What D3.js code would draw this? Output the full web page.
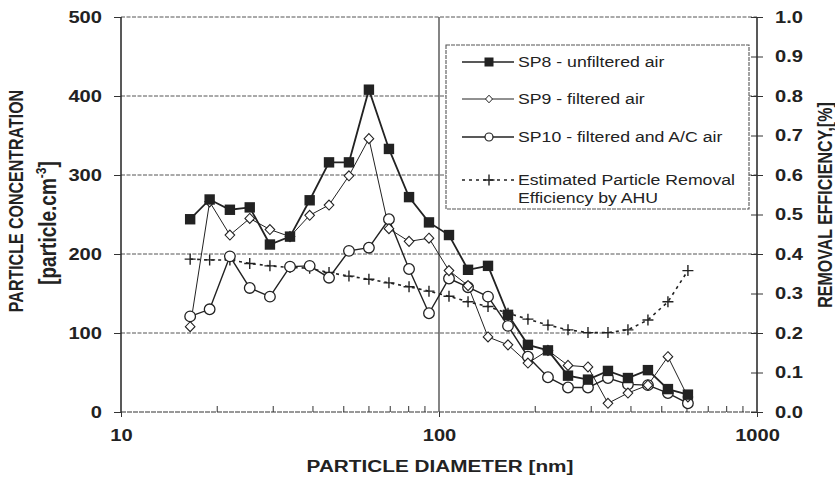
<!DOCTYPE html>
<html><head><meta charset="utf-8">
<script src="https://cdn.jsdelivr.net/npm/d3@7"></script>
<style>
html,body{margin:0;padding:0;background:#fff;}
text{font-family:"Liberation Sans",Arial,sans-serif;fill:#222;}
</style></head>
<body><svg id="c" width="835" height="480"></svg>
<script>
const diameters = [16.5, 19.0, 22.0, 25.4, 29.4, 34.0, 39.2, 45.1, 52.1, 60.2, 69.6, 80.5, 93.0, 107.5, 123.4, 142.6, 164.8, 190.4, 220.1, 254.5, 294.1, 339.9, 392.8, 454.0, 524.7, 606.4];
const sp8  = [244, 269, 256, 259, 212, 222, 268, 316, 316, 408, 333, 272, 240, 224, 180, 185, 123, 85, 78, 46, 41, 52, 43, 53, 29, 22];
const sp9  = [108, 266, 224, 245, 231, 222, 249, 262, 299, 346, 232, 216, 220, 179, 160, 95, 85, 62, 78, 59, 57, 11, 24, 34, 70, 19];
const sp10 = [121, 130, 197, 157, 146, 184, 185, 170, 204, 208, 244, 181, 125, 169, 158, 146, 109, 70, 44, 31, 31, 43, 35, 34, 24, 11];
const efficiency = [0.387, 0.385, 0.385, 0.376, 0.370, 0.366, 0.364, 0.353, 0.344, 0.336, 0.327, 0.317, 0.306, 0.293, 0.279, 0.267, 0.250, 0.235, 0.220, 0.208, 0.201, 0.201, 0.208, 0.233, 0.279, 0.358];
const leftTicks = [0, 100, 200, 300, 400, 500];
const rightTicks = [0, 0.1, 0.2, 0.3, 0.4, 0.5, 0.6, 0.7, 0.8, 0.9, 1.0];
const xMajor = [10, 100, 1000];
const xMinor = [20, 30, 40, 50, 60, 70, 80, 90, 200, 300, 400, 500, 600, 700, 800, 900];
const legendLabels = ["SP8 - unfiltered air", "SP9 - filtered air", "SP10 - filtered and A/C air", "Estimated Particle Removal", "Efficiency by AHU"];

const svg = d3.select("#c");
const L = 121, R = 757, T = 17, B = 412;
const SX = 1.22; // horizontal glyph stretch seen in the reference
const x = d3.scaleLog().domain([10, 1000]).range([L, R]);
const y = d3.scaleLinear().domain([0, 500]).range([B, T]);
const y2 = d3.scaleLinear().domain([0, 1]).range([B, T]);
const ink = "#222";
const FONT = "'Liberation Sans',Arial,sans-serif";

function stretchLabels(sel, size) {
  sel.each(function () {
    const t = d3.select(this);
    const tx = +t.attr("x") || 0, ty = +t.attr("y") || 0;
    t.attr("transform", `translate(${tx},${ty}) scale(${SX},1)`).attr("x", 0).attr("y", 0)
      .attr("font-size", size).attr("font-weight", "bold").attr("fill", ink).attr("font-family", FONT);
  });
}

// gridlines
svg.append("g").selectAll("line").data(leftTicks.filter(d => d > 0)).join("line")
  .attr("x1", L).attr("x2", R).attr("y1", d => y(d)).attr("y2", d => y(d))
  .attr("stroke", "#555").attr("stroke-width", 1).attr("stroke-dasharray", "4,1.5");
svg.append("line").attr("x1", x(100)).attr("x2", x(100)).attr("y1", T).attr("y2", B)
  .attr("stroke", "#333").attr("stroke-width", 1.2);

// bottom axis
svg.append("line").attr("x1", L).attr("x2", R).attr("y1", B).attr("y2", B)
  .attr("stroke", "#333").attr("stroke-width", 1.2).attr("stroke-dasharray", "5,1");
const gxMinor = svg.append("g").attr("transform", `translate(0,${B})`)
  .call(d3.axisBottom(x).tickValues(xMinor).tickSize(-6).tickFormat(""));
gxMinor.select(".domain").remove();
gxMinor.selectAll("line").attr("stroke", "#333");
const gx = svg.append("g").attr("transform", `translate(0,${B})`)
  .call(d3.axisBottom(x).tickValues(xMajor).tickSize(5).tickPadding(12).tickFormat(d3.format("d")));
gx.select(".domain").remove();
gx.selectAll("line").attr("stroke", "#333");
stretchLabels(gx.selectAll("text"), 16.5);

// left axis
const gy = svg.append("g").attr("transform", `translate(${L},0)`)
  .call(d3.axisLeft(y).tickValues(leftTicks).tickSize(7).tickPadding(12));
gy.select(".domain").attr("stroke", ink).attr("stroke-width", 1.5).attr("d", `M0,${T}V${B}`);
gy.selectAll("line").attr("stroke", "#333");
stretchLabels(gy.selectAll("text"), 16.5);

// right axis
const gy2 = svg.append("g").attr("transform", `translate(${R},0)`)
  .call(d3.axisRight(y2).tickValues(rightTicks).tickSize(6).tickPadding(12).tickFormat(d3.format(".1f")));
gy2.select(".domain").attr("stroke", ink).attr("stroke-width", 1.5).attr("d", `M0,${T}V${B}`);
gy2.selectAll(".tick line").attr("stroke", "#333").attr("x1", -6).attr("x2", 6);
stretchLabels(gy2.selectAll("text"), 16.5);

// axis titles
svg.append("text").attr("transform", `translate(440,472) scale(${SX},1)`).attr("text-anchor", "middle")
  .attr("font-size", 17).attr("font-weight", "bold").text("PARTICLE DIAMETER [nm]");
svg.append("text").attr("transform", `translate(23,201) scale(${SX},1) rotate(-90)`).attr("text-anchor", "middle")
  .attr("font-size", 16).attr("font-weight", "bold").text("PARTICLE CONCENTRATION");
const lt = svg.append("text").attr("transform", `translate(56,223) scale(${SX},1) rotate(-90)`).attr("text-anchor", "middle")
  .attr("font-size", 19).attr("font-weight", "bold");
lt.append("tspan").text("[particle.cm");
lt.append("tspan").attr("dy", -8).attr("font-size", 12).text("-3");
lt.append("tspan").attr("dy", 8).text("]");
svg.append("text").attr("transform", `translate(832,205) scale(${SX},1) rotate(-90)`).attr("text-anchor", "middle")
  .attr("font-size", 16).attr("font-weight", "bold").text("REMOVAL EFFICIENCY,[%]");

// series
const lineL = d3.line().x((d, i) => x(diameters[i])).y(d => y(d));
const lineR = d3.line().x((d, i) => x(diameters[i])).y(d => y2(d));
const plot = svg.append("g");
plot.append("path").attr("d", lineR(efficiency)).attr("fill", "none").attr("stroke", ink)
  .attr("stroke-width", 1.6).attr("stroke-dasharray", "3,4");
plot.append("path").attr("d", lineL(sp10)).attr("fill", "none").attr("stroke", ink).attr("stroke-width", 1.4);
plot.append("path").attr("d", lineL(sp9)).attr("fill", "none").attr("stroke", ink).attr("stroke-width", 1);
plot.append("path").attr("d", lineL(sp8)).attr("fill", "none").attr("stroke", ink).attr("stroke-width", 1.8);

const cross = s => `M${-s},0H${s}M0,${-s}V${s}`;
plot.append("g").selectAll("path").data(efficiency).join("path")
  .attr("transform", (d, i) => `translate(${x(diameters[i])},${y2(d)})`)
  .attr("d", cross(5.5)).attr("stroke", ink).attr("stroke-width", 1.4).attr("fill", "none");
plot.append("g").selectAll("circle").data(sp10).join("circle")
  .attr("cx", (d, i) => x(diameters[i])).attr("cy", d => y(d)).attr("r", 5.3)
  .attr("fill", "#fff").attr("stroke", ink).attr("stroke-width", 1.3);
const diamond = (w, h) => `M0,${-h}L${w},0L0,${h}L${-w},0Z`;
plot.append("g").selectAll("path").data(sp9).join("path")
  .attr("transform", (d, i) => `translate(${x(diameters[i])},${y(d)})`)
  .attr("d", diamond(4.8, 5)).attr("fill", "#fff").attr("stroke", ink).attr("stroke-width", 1.1);
plot.append("g").selectAll("rect").data(sp8).join("rect")
  .attr("x", (d, i) => x(diameters[i]) - 5.2).attr("y", d => y(d) - 5.2)
  .attr("width", 10.4).attr("height", 10.4).attr("fill", ink);

// legend
const lg = svg.append("g");
lg.append("rect").attr("x", 446).attr("y", 45).attr("width", 303).attr("height", 164)
  .attr("fill", "#fff").attr("stroke", "#555").attr("stroke-width", 1.1).attr("stroke-dasharray", "4,1");
const rows = [62, 99, 137, 180];
const lx1 = 462, lx2 = 514, lm = 489, tx = 518;
lg.append("line").attr("x1", lx1).attr("x2", lx2).attr("y1", rows[0]).attr("y2", rows[0]).attr("stroke", ink).attr("stroke-width", 1.5);
lg.append("rect").attr("x", lm - 4.5).attr("y", rows[0] - 4.5).attr("width", 9).attr("height", 9).attr("fill", ink);
lg.append("line").attr("x1", lx1).attr("x2", lx2).attr("y1", rows[1]).attr("y2", rows[1]).attr("stroke", ink).attr("stroke-width", 1);
lg.append("path").attr("transform", `translate(${lm},${rows[1]})`).attr("d", diamond(3.5, 3.8)).attr("fill", "#fff").attr("stroke", ink);
lg.append("line").attr("x1", lx1).attr("x2", lx2).attr("y1", rows[2]).attr("y2", rows[2]).attr("stroke", ink).attr("stroke-width", 1.3);
lg.append("circle").attr("cx", lm).attr("cy", rows[2]).attr("r", 4).attr("fill", "#fff").attr("stroke", ink).attr("stroke-width", 1.2);
lg.append("line").attr("x1", lx1).attr("x2", lx2).attr("y1", rows[3]).attr("y2", rows[3]).attr("stroke", ink).attr("stroke-width", 1.5).attr("stroke-dasharray", "3,4");
lg.append("path").attr("transform", `translate(${lm},${rows[3]})`).attr("d", cross(5.5)).attr("stroke", ink).attr("stroke-width", 1.4);
const ty = [rows[0], rows[1], rows[2], rows[3], rows[3] + 18];
legendLabels.forEach((t, i) => {
  lg.append("text").attr("transform", `translate(${tx},${ty[i]}) scale(${SX},1)`).attr("dy", "0.35em")
    .attr("font-size", 14.5).text(t);
});
</script></body></html>
